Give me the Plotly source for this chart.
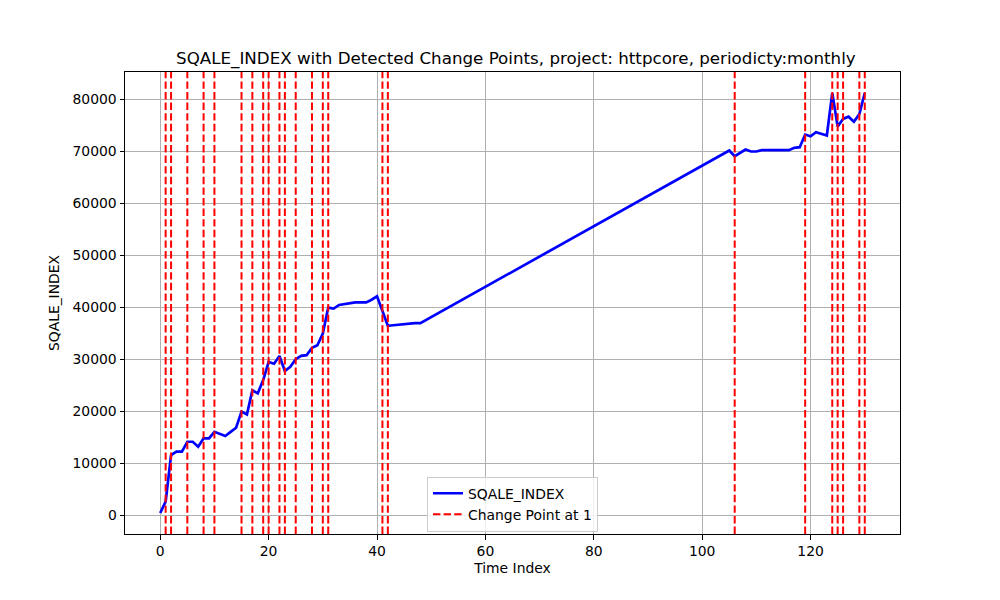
import plotly.graph_objects as go

time_index = [0, 1, 2, 3, 4, 5, 6, 7, 8, 9, 10, 11, 12, 13, 14, 15, 16, 17, 18, 19,
              20, 21, 22, 23, 24, 25, 26, 27, 28, 29, 30, 31, 32, 33, 34, 35, 36, 37,
              38, 39, 40, 41, 42, 43, 44, 45, 46, 47, 48,
              105, 106, 107, 108, 109, 110, 111, 112, 113, 114, 115, 116, 117, 118,
              119, 120, 121, 122, 123, 124, 125, 126, 127, 128, 129, 130]
sqale_index = [500, 2700, 11650, 12300, 12300, 14200, 14200, 13250, 14840, 14840,
               16100, 15700, 15300, 16100, 16900, 20000, 19450, 24100, 23500, 26050,
               29550, 29200, 30700, 27800, 28600, 30070, 30700, 30840, 32250, 32760,
               35000, 40000, 39800, 40500, 40650, 40800, 41000, 41000, 41000, 41500,
               42160, 39350, 36500, 36600, 36700, 36800, 37000, 37000, 37000,
               70190, 69100, 69730, 70380, 70000, 70000, 70250, 70250, 70250, 70250,
               70250, 70250, 70700, 70830, 73260, 72940, 73700, 73380, 73070, 81250,
               74800, 76260, 76700, 75740, 77200, 81250]
change_points = [1, 2, 5, 8, 10, 15, 17, 19, 20, 22, 23, 25, 28, 30, 31, 41, 42,
                 106, 119, 124, 125, 126, 129, 130]

FONT = "DejaVu Sans"


def generate_plot() -> go.Figure:
    fig = go.Figure()
    fig.add_trace(go.Scatter(x=time_index, y=sqale_index, mode="lines",
                             name="SQALE_INDEX", line=dict(color="blue", width=2.7)))

    # vertical change point lines, one legend entry for all of them
    cx, cy = [], []
    for cp in change_points:
        cx += [cp, cp, None]
        cy += [0, 1, None]
    fig.add_trace(go.Scatter(x=cx, y=cy, yaxis="y2", mode="lines",
                             name="Change Point at 1",
                             line=dict(color="red", width=2, dash="7.4px,3.2px")))

    axis_style = dict(
        showline=True, linecolor="black", linewidth=1, mirror=True,
        showgrid=True, gridcolor="#b0b0b0", gridwidth=1, zeroline=False,
        ticks="outside", ticklen=4.5, tickcolor="black",
        tickfont=dict(size=13.9, color="black"),
        title_font=dict(size=13.9, color="black"),
    )
    # page body has an 8px margin, so the figure is a bit smaller than the window
    fig.update_layout(
        width=992, height=592,
        margin=dict(l=117, r=100, t=64, b=66),
        paper_bgcolor="white", plot_bgcolor="white",
        font=dict(family=FONT, color="black"),
        title=dict(text="SQALE_INDEX with Detected Change Points, project: httpcore, periodicty:monthly",
                   x=0.512, xanchor="center", y=0.9155, yanchor="middle",
                   font=dict(size=16.7, color="black")),
        xaxis=dict(title=dict(text="Time Index", standoff=5), range=[-6.5, 136.5],
                   tickvals=[0, 20, 40, 60, 80, 100, 120], **axis_style),
        yaxis=dict(title=dict(text="SQALE_INDEX", standoff=9), range=[-3537, 85287],
                   tickvals=[0, 10000, 20000, 30000, 40000, 50000, 60000, 70000, 80000],
                   tickformat="d", **axis_style),
        yaxis2=dict(overlaying="y", range=[0, 1], visible=False),
        showlegend=True,
        legend=dict(x=0.5, xanchor="center", y=0.005, yanchor="bottom",
                    bgcolor="rgba(255,255,255,0.8)", bordercolor="#cccccc",
                    borderwidth=1, font=dict(size=13.9, color="black"),
                    itemwidth=30, tracegroupgap=2),
    )
    return fig


if __name__ == "__main__":
    fig = generate_plot()
    fig.write_html("out.html")
